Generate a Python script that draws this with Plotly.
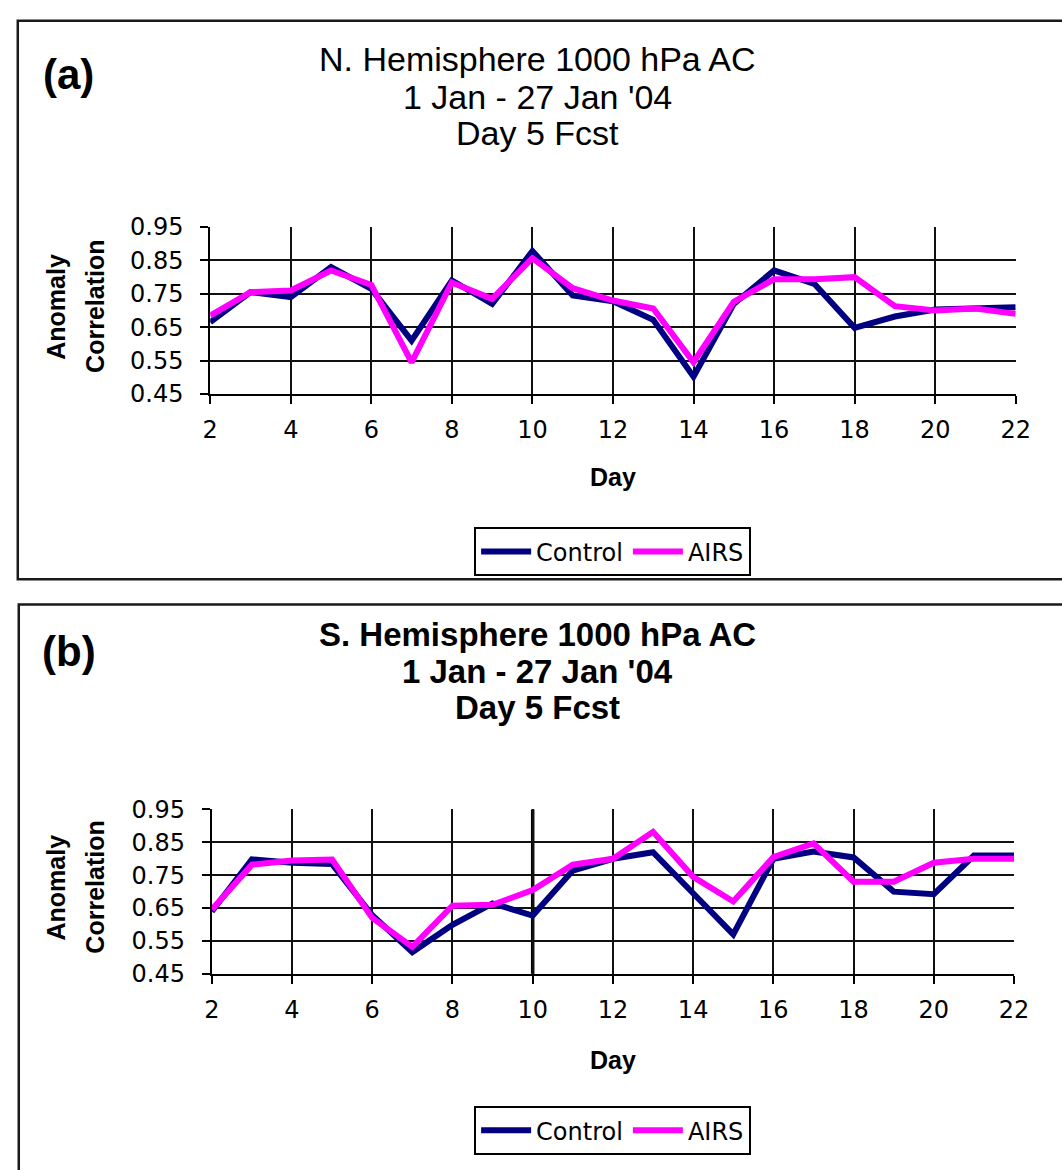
import plotly.graph_objects as go

# Forecast day (x axis)
days = list(range(2, 23))

# Northern Hemisphere 1000 hPa anomaly correlation, day-5 forecasts
nh_control = [0.665, 0.755, 0.740, 0.830, 0.765, 0.610, 0.790, 0.720, 0.878, 0.745, 0.728,
              0.672, 0.502, 0.720, 0.820, 0.780, 0.648, 0.682, 0.703, 0.706, 0.710]
nh_airs = [0.685, 0.755, 0.760, 0.820, 0.777, 0.545, 0.784, 0.735, 0.857, 0.767, 0.730,
           0.706, 0.545, 0.726, 0.794, 0.794, 0.800, 0.713, 0.700, 0.706, 0.690]

# Southern Hemisphere 1000 hPa anomaly correlation, day-5 forecasts
sh_control = [0.640, 0.798, 0.788, 0.784, 0.628, 0.516, 0.599, 0.664, 0.627, 0.764, 0.800,
              0.820, 0.695, 0.570, 0.800, 0.822, 0.804, 0.700, 0.692, 0.810, 0.810]
sh_airs = [0.645, 0.782, 0.795, 0.798, 0.620, 0.532, 0.657, 0.660, 0.705, 0.782, 0.800,
           0.882, 0.745, 0.670, 0.805, 0.847, 0.730, 0.730, 0.788, 0.800, 0.800]

series_names = ["Control", "AIRS"]
series_colors = ["#000080", "#FF00FF"]
y_ticks = [0.45, 0.55, 0.65, 0.75, 0.85, 0.95]

panel_labels = ["(a)", "(b)"]
panel_titles = [
    ["N. Hemisphere 1000 hPa AC", "1 Jan - 27 Jan '04", "Day 5 Fcst"],
    ["S. Hemisphere 1000 hPa AC", "1 Jan - 27 Jan '04", "Day 5 Fcst"],
]

W, H = 1062, 1170


def px(x):
    return x / W


def py(y):
    return 1 - y / H


TICK_FONT = dict(family="DejaVu Sans", size=24, color="black")
BOLD_FONT = dict(family="Liberation Sans", size=25, color="black", weight="bold")
TITLE_FONTS = [
    dict(family="Liberation Sans", size=34, color="black"),
    dict(family="Liberation Sans", size=33, color="black", weight="bold"),
]

fig = go.Figure()

panels = [
    dict(ctrl=nh_control, airs=nh_airs, xa="x", ya="y", legend="legend"),
    dict(ctrl=sh_control, airs=sh_airs, xa="x2", ya="y2", legend="legend2"),
]
for p in panels:
    for name, vals, color in zip(series_names, [p["ctrl"], p["airs"]], series_colors):
        fig.add_trace(go.Scatter(
            x=days, y=vals, name=name, mode="lines",
            line=dict(color=color, width=6),
            xaxis=p["xa"], yaxis=p["ya"], legend=p["legend"],
        ))

xaxis_common = dict(
    range=[2, 22], tick0=2, dtick=2, showgrid=True, gridcolor="#111111", gridwidth=2,
    showline=True, linecolor="black", linewidth=2, ticks="outside", ticklen=8,
    tickwidth=2, tickcolor="black", tickfont=TICK_FONT, zeroline=False,
    ticklabelstandoff=5,
)
yaxis_common = dict(
    range=[0.45, 0.95], tickvals=y_ticks, tickformat=".2f", showgrid=True,
    gridcolor="#111111", gridwidth=2, showline=True, linecolor="black", linewidth=2,
    ticks="outside", ticklen=8, tickwidth=2, tickcolor="black", tickfont=TICK_FONT,
    zeroline=False, ticklabelstandoff=12,
)

# plot-area pixel boxes: (left, right, top, bottom)
areas = [(206.7, 1030.0, 218.3, 389.3), (208.3, 1028.3, 815.0, 983.3)]

fig.update_layout(
    width=W, height=H,
    margin=dict(l=0, r=0, t=0, b=0),
    paper_bgcolor="white", plot_bgcolor="white",
    xaxis=dict(domain=[px(areas[0][0]), px(areas[0][1])], anchor="y", **xaxis_common),
    yaxis=dict(domain=[py(areas[0][3]), py(areas[0][2])], anchor="x", **yaxis_common),
    xaxis2=dict(domain=[px(areas[1][0]), px(areas[1][1])], anchor="y2", **xaxis_common),
    yaxis2=dict(domain=[py(areas[1][3]), py(areas[1][2])], anchor="x2", **yaxis_common),
)

legend_common = dict(
    orientation="h", xanchor="center", yanchor="top",
    bgcolor="white", bordercolor="black", borderwidth=2,
    font=dict(family="DejaVu Sans", size=24, color="black"),
    itemwidth=50, tracegroupgap=0,
)
fig.update_layout(
    legend=dict(x=px(618), y=py(526), **legend_common),
    legend2=dict(x=px(618), y=py(1119), **legend_common),
)

# outer panel frames
fig.add_shape(type="rect", xref="paper", yref="paper",
              x0=px(10), x1=1.02, y0=py(579), y1=py(7),
              line=dict(color="#1a1a1a", width=2.5), layer="below")
fig.add_shape(type="rect", xref="paper", yref="paper",
              x0=px(11), x1=1.02, y0=-0.02, y1=py(605),
              line=dict(color="#1a1a1a", width=2.5), layer="below")

# heavier vertical rule at day 10 in the lower panel
fig.add_shape(type="line", xref="x2", yref="y2 domain", x0=10, x1=10, y0=0, y1=1,
              line=dict(color="black", width=3.5), layer="below")

title_rows = [(46, 85, 122), (636, 674, 711)]
label_y = [62, 653]
day_y = [474, 1072]
ytitle_y = [300, 895]

for i in range(2):
    fig.add_annotation(text=panel_labels[i], x=px(62), y=py(label_y[i]), xref="paper", yref="paper",
                       showarrow=False, xanchor="center", yanchor="middle",
                       font=dict(family="Liberation Sans", size=42, color="black", weight="bold"))
    for line, yy in zip(panel_titles[i], title_rows[i]):
        fig.add_annotation(text=line, x=px(541), y=py(yy), xref="paper", yref="paper",
                           showarrow=False, xanchor="center", yanchor="middle",
                           font=TITLE_FONTS[i])
    fig.add_annotation(text="Day", x=px(618), y=py(day_y[i]), xref="paper", yref="paper",
                       showarrow=False, xanchor="center", yanchor="middle", font=BOLD_FONT)
    fig.add_annotation(text="Anomaly", x=px(49), y=py(ytitle_y[i]), xref="paper", yref="paper",
                       showarrow=False, xanchor="center", yanchor="middle", textangle=-90,
                       font=BOLD_FONT)
    fig.add_annotation(text="Correlation", x=px(89), y=py(ytitle_y[i]), xref="paper", yref="paper",
                       showarrow=False, xanchor="center", yanchor="middle", textangle=-90,
                       font=BOLD_FONT)

fig.write_html("out.html")
